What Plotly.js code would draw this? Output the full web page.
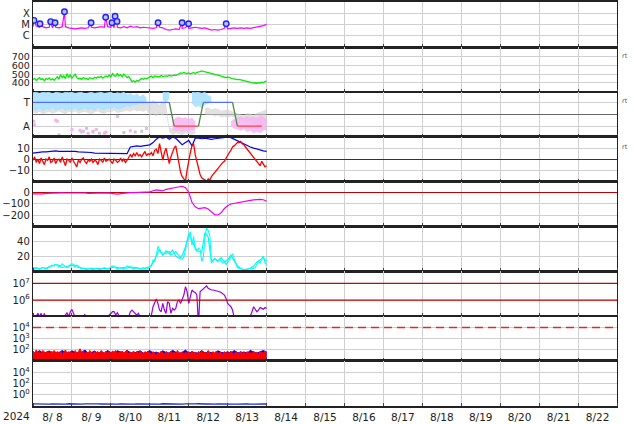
<!DOCTYPE html>
<html><head><meta charset="utf-8">
<script src="https://cdn.plot.ly/plotly-3.0.1.min.js"></script>
<style>html,body{margin:0;padding:0;background:#fff}#chart{width:634px;height:424px}</style>
</head><body><div id="chart"></div>
<script>
// ---------- time base ----------
const T0 = Date.UTC(2024, 7, 8);
const HOUR = 3600000;
const tH = h => T0 + h * HOUR;
const xs = (arr, stepH) => arr.map((_, i) => tH(i * stepH));
const pow10 = arr => arr.map(v => v == null ? null : Math.pow(10, v));

// ---------- axis labels ----------
const dayLabels = ['8/ 8','8/ 9','8/10','8/11','8/12','8/13','8/14','8/15','8/16','8/17','8/18','8/19','8/20','8/21','8/22'];
const yearLabel = '2024';
const xrayTickText = ['X', 'M', 'C'];
const xrayTickLog = [-4, -5, -6];
const sectorTickText = ['T', 'A'];

// ---------- panel 1: X-ray flux (log10 W/m2), 2-hourly ----------
const xrayLogBase = [
 -5.2,-5.15,-5.25,-5.2,-5.3,-5.25, -5.3,-5.25,-5.3,-5.2,-5.2,-5.3,
 -5.35,-5.4,-5.35,-5.3,-5.35,-5.3, -5.25,-5.3,-5.25,-5.2,-5.25,-5.2,
 -5.25,-5.3,-5.25,-5.3,-5.2,-5.3, -5.15,-5.25,-5.2,-5.3,-5.25,-5.3,
 -5.3,-5.35,-5.3,-5.25,-5.3,-5.45, -5.5,-5.45,-5.4,-5.45,-5.35,-5.3,
 -5.35,-5.3,-5.25,-5.3,-5.35,-5.3, -5.4,-5.5,-5.45,-5.5,-5.45,-5.35,
 -5.4,-5.35,-5.3,-5.35,-5.3,-5.35, -5.3,-5.35,-5.3,-5.25,-5.2,-5.1,
 -5.0];
const flareHour = [0.6, 4.3, 10.9, 13.6, 19.4, 35.8, 44.8, 48.7, 50.6, 51.8, 77.1, 91.9, 95.9, 119.1];
const flareLog  = [-4.64,-4.94,-4.75,-4.85,-3.87,-4.85,-4.36,-4.85,-4.27,-4.73,-4.85,-4.85,-4.94,-4.94];

// ---------- panel 2: solar wind speed (km/s), hourly ----------
const windSpeed = [
 440,452,430,445,460,438,448,425,450,442,458,435,447,430,455,
 470,445,495,460,480,450,505,465,490,455,475,500,460,445,
 455,440,462,448,452,438,460,450,445,465,455,470,
 462,475,455,468,480,470,
 490,470,505,485,475,510,480,495,470,500,485,460,475,
 440,415,425,410,430,420,
 438,450,442,455,448,460,
 465,478,460,482,470,475,468,485,472,478,
 480,475,488,478,482,490,485,495,
 505,515,510,520,512,
 508,515,505,512,518,510,520,525,
 530,538,532,528,
 520,515,512,505,508,500,495,490,
 485,478,470,465,460,468,458,455,
 450,445,442,438,440,435,430,425,420,
 415,410,405,400,398,402,
 395,405,400,410,405,415,420];

// ---------- panel 3: IMF sector (T = +1, A = -1), 2-hourly bands ----------
const towardUpper = [
 1.85,1.9,1.8,1.9,1.85,1.9,1.75,1.9,1.85,1.8,1.9,1.85, 1.9,1.8,1.85,1.9,1.75,1.85,1.9,1.8,1.85,1.9,1.8,1.85,
 1.9,1.75,1.85,1.8,1.9,1.7,1.8,1.6,1.75,1.5,1.7,1.4,
 null,null,null,null, 1.9,1.85,1.9, null,null,null,null,null,null,
 1.9,1.85,1.9,1.8,1.9,1.6,1.5,
 null,null,null,null,null,null,null,null,null,null,null,null,null,null,null,null,null];
const towardLower = [
 0.4,0.3,0.5,0.25,0.45,0.35,0.6,0.3,0.4,0.5,0.3,0.45, 0.35,0.55,0.3,0.4,0.5,0.35,0.45,0.3,0.55,0.4,0.35,0.5,
 0.45,0.6,0.4,0.5,0.55,0.7,0.6,0.8,0.75,0.9,0.85,1.0,
 null,null,null,null, 1.2,1.0,1.3, null,null,null,null,null,null,
 0.9,0.6,0.7,0.5,0.8,0.9,1.0,
 null,null,null,null,null,null,null,null,null,null,null,null,null,null,null,null,null];
const awayUpper = [
 null,null,null,null,null,null,null,null,null,null,null,null,null,null,null,null,null,null,null,null,null,null,
 null,null,null,null,null,null,null,null,null,null,null,null,null,null,null,null,null,null,null,null,null,
 -0.5,-0.3,-0.2,-0.35,-0.25,-0.4,-0.3,-0.6,
 null,null,null,null,null,null,null,null,null,null,
 -0.6,-0.4,-0.3,-0.2,-0.3,-0.15,-0.25,-0.2,-0.3,-0.1,-0.2,-0.4];
const awayLower = [
 null,null,null,null,null,null,null,null,null,null,null,null,null,null,null,null,null,null,null,null,null,null,
 null,null,null,null,null,null,null,null,null,null,null,null,null,null,null,null,null,null,null,null,null,
 -1.3,-1.45,-1.4,-1.5,-1.4,-1.45,-1.35,-1.3,
 null,null,null,null,null,null,null,null,null,null,
 -1.0,-1.2,-1.3,-1.4,-1.3,-1.5,-1.4,-1.6,-1.5,-1.6,-1.4,-1.2];
const grayUpper = [
 0.6,0.55,0.65,0.5,0.6,0.55,0.7,0.5,0.6,0.65,0.5,0.6, 0.55,0.7,0.5,0.6,0.65,0.55,0.6,0.5,0.7,0.6,0.55,0.65,
 0.6,0.7,0.6,0.65,0.7,0.8,0.75,0.9,0.85,0.95,0.9,1.0,
 0.9,1.2,1.0,0.8,1.1,0.9,
 -1.1,-1.2,-1.15,-1.2,-1.1,-1.25,-1.2,-1.15,-1.2,
 null,null,
 0.5,0.6,0.4,0.5,0.45,0.3,0.35,0.4,0.3,0.2,0.1,
 0.0,-0.1,0.1,0.0,-0.05,0.1,0.2,0.3,0.4];
const grayLower = [
 0.15,0.05,0.2,0.0,0.1,0.2,0.05,0.15,0.25,0.1,0.0,0.2, 0.1,0.25,0.05,0.15,0.2,0.1,0.0,0.15,0.25,0.1,0.05,0.2,
 0.15,0.3,0.1,0.2,0.25,0.3,0.2,0.35,0.25,0.3,0.2,0.35,
 -0.1,0.0,-0.2,0.0,-0.1,0.1,
 -1.5,-1.75,-1.6,-1.7,-1.75,-1.6,-1.7,-1.75,-1.6,
 null,null,
 0.0,-0.1,-0.05,-0.2,-0.1,-0.25,-0.2,-0.3,-0.2,-0.35,-0.4,
 -0.5,-0.6,-0.7,-0.6,-0.8,-0.9,-1.2,-1.3,-1.4];
const pinkDotHour = [0.5, 1, 14, 15, 24, 29, 30, 33, 34, 37, 39, 44, 45, 52, 60, 70];
const pinkDotVal  = [-0.6,-0.9,-0.5,-0.6,-1.3,-1.35,-1.5,-1.2,-1.6,-1.45,-1.3,-1.6,-1.5,-0.2,-1.4,-1.2];
const grayDotHour = [16, 31, 37, 41, 56, 63, 67];
const grayDotVal  = [-1.75,-1.45,-1.5,-1.6,-1.55,-1.5,-1.45];
const sectorStartH = [0, 87, 105, 126];
const sectorEndH   = [84, 102, 123, 141];
const sectorSign   = [1, -1, 1, -1];

// ---------- panel 4: IMF Bt (2-hourly) and Bz (hourly), nT ----------
const imfBt = [
 5.5,6,6,6.5,6.5,7,7,7.5,7,7,7.5,7,
 7,7,6.5,6.5,6,6,6,5.5,5.5,5.5,5.5,5.5,
 5.5,5.5,5.5,5.5,5.5,5,11,11.5,12,11.5,12,12.5,
 13,15,18,20,19,20,18,20,19,16,13,15,
 17,12,19,19,18.5,19,18.5,18,18.5,19,19,19.5,
 20,19.5,18,16.5,15,13.5,12,11,10,9,8,7.5,
 7];
const imfBz = [
 -1,2,-3,0,-4,1,-2,-5,0,-1,2,-3,
 -2,1,-4,-1,0,-3,2,-2,-6,0,-1,-3,
 1,-2,-4,-7,-1,-3,0,1,-2,-4,-1,-2,
 0,-3,-1,-2,-5,0,-1,-3,1,-2,-1,0,
 -2,-4,0,-1,-3,-2,1,-2,0,-3,-1,2,
 4,2,5,3,6,3,4,2,5,7,3,5,4,6,
 3,8,9,5,14,7,-1,6,10,3,-4,2,6,10,12,3,-7,-12,-16,-18,-20,-10,
 0,6,12,14,4,-2,-10,-14,-17,-18,-19,-20,
 -18,-19,-16,-14,-12,-11,-9,-7,-5,-3,-2,1,
 3,6,8,11,12,14,15,15,16,14,13,11,
 9,8,6,4,2,-1,-3,-5,-6,-2,-4,-7,-6];

// ---------- panel 5: Dst (nT), 2-hourly ----------
const dst = [
 -10,-12,-8,-10,-6,-4,-2,0,2,0,-2,-1,
 0,-2,-4,-3,-2,-5,-4,-2,-1,-3,-4,-2,
 -5,-10,-12,-8,-3,0,2,1,3,4,2,5,
 8,18,25,22,18,30,35,38,44,50,58,45,
 5,-85,-125,-142,-138,-133,-145,-170,-195,-198,-178,-140,
 -115,-100,-94,-86,-80,-75,-70,-67,-64,-60,-58,-62,
 -75];

// ---------- panel 6: activity index (two stations) ----------
const indexA = [
 5,4,6,5,4,5,6,5,4,5,6,7,
 9,8,10,9,7,8,11,9,7,6,7,9,
 11,10,8,9,7,5,4,5,4,3,4,5,
 4,3,4,5,4,3,4,5,6,5,4,5,
 6,8,7,5,4,5,6,5,4,6,8,7,
 6,5,4,5,6,5,4,5,6,5,4,5,6,8,
 16,14,22,34,28,25,25,24,24,27,27,22,24,26,27,24,22,18,17,20,30,38,
 48,53,35,47,30,28,31,30,14,20,45,58,
 55,48,12,15,17,16,15,17,14,12,15,10,
 12,17,20,24,18,10,6,5,4,3,3,2.5,
 3,4,5,4,5,6,10,14,12,18,21,12,10];
const indexB = [
 6,5,4,6,5,7,8,10,9,6,7,8,
 9,7,6,5,4,4,5,4,5,4,5,4,
 5,7,6,5,6,5,7,6,5,5,4,6,
 7,12,20,30,22,28,24,29,21,18,22,33,
 50,40,32,27,26,52,46,13,18,14,19,13,
 16,22,14,8,5,3,4,5,8,13,16,19,
 14];

// ---------- panel 7: electron flux (log10), hourly ----------
const electronLog = [
 4.6,4.8,4.9,5.2,5.0,5.2,4.9,5.2,4.8,4.6,4.5,4.5,
 4.5,4.5,4.6,4.7,4.8,4.7,4.8,4.9,5.1,5.24,5.0,5.3,
 5.44,5.2,4.9,4.7,4.8,4.9,4.8,5.0,5.14,4.9,4.7,4.6,
 4.5,4.5,4.6,4.7,4.6,4.7,4.8,4.7,4.8,4.9,5.0,5.1,
 5.2,5.3,5.3,5.1,5.24,5.0,4.8,4.7,4.6,4.8,4.9,5.0,
 5.3,5.4,5.3,5.2,5.1,5.2,4.9,4.8,4.7,4.9,5.0,4.9,5.0,5.1,
 5.6,5.8,6.06,5.8,5.4,5.3,5.8,5.4,5.2,5.9,5.8,5.2,5.5,5.4,5.5,5.9,6.0,5.8,6.1,6.3,6.8,6.5,
 5.8,6.2,6.6,6.5,6.45,6.3,4.5,6.5,6.6,6.7,6.75,6.85,
 6.7,6.65,6.6,6.6,6.58,6.55,6.55,6.5,6.45,6.4,6.3,6.1,
 5.8,5.7,5.6,5.4,4.6,4.5,4.5,4.5,4.5,4.5,4.5,4.5,
 4.6,4.8,5.0,5.3,5.6,5.4,5.3,5.4,5.55,5.5,5.45,5.55,5.5];
const electronRefLog = [7, 6];

// ---------- panel 8: proton flux (log10) ----------
const protonRedLog = [
 1.9,1.7,2.0,1.75,1.85,1.6,1.95,1.8,1.7,1.9,1.65,1.85,1.8,1.95,1.7,1.85,1.75,1.9,1.65,1.8,2.0,1.7,1.85,1.75,
 1.8,1.65,1.95,1.7,1.85,2.1,1.75,1.9,1.6,1.85,1.7,1.95,1.8,1.65,1.9,1.75,1.85,1.7,1.95,1.8,1.65,1.9,1.75,1.85,
 1.7,1.9,1.8,1.95,1.65,1.85,1.75,1.9,1.7,1.85,1.95,1.6,1.8,1.75,1.9,1.65,1.85,1.7,1.9,1.8,1.65,1.85,1.75,1.9,
 1.75,1.6,1.85,1.7,1.55,1.8,1.65,1.9,1.7,1.6,1.85,1.75,1.65,1.9,1.7,1.8,1.6,1.95,1.75,1.7,1.85,1.65,1.8,1.7,
 1.85,1.65,1.9,1.7,1.8,1.6,1.85,1.75,1.9,1.65,1.8,1.7,1.95,1.75,1.6,1.85,1.7,1.9,1.65,1.8,1.75,1.6,1.85,1.7,
 1.8,1.65,1.9,1.7,1.6,1.85,1.75,1.65,1.9,1.7,1.8,1.6,1.85,1.7,1.75,1.65,1.9,1.7,1.8,1.6,1.85,1.75,1.7,1.9,1.8];
const protonBlueLog = [
 1.75,1.7,1.95,1.72,1.78,1.9,1.7,1.8,1.72,1.95,1.75,1.7,
 1.92,1.76,1.7,1.8,1.98,1.72,1.76,1.9,1.7,1.8,1.72,1.94,
 1.76,1.7,1.92,1.8,1.72,1.96,1.76,1.7,1.8,1.92,1.72,1.78,
 1.94,1.72,1.8,1.7,1.92,1.76,1.72,1.96,1.8,1.7,1.76,1.98,
 1.72,1.82,1.76,1.7,1.94,1.72,1.8,1.76,1.7,1.92,1.78,1.72,
 1.84,1.7,1.94,1.76,1.72,1.82,1.7,1.96,1.78,1.72,1.84,1.94,
 1.8];
const protonRefLog = [4];

// ---------- panel 9: high-energy flux (log10), 2-hourly ----------
const highEnergyLog = [
 -1.62,-1.65,-1.6,-1.66,-1.63,-1.68,-1.61,-1.64,-1.67,-1.62,-1.65,-1.6,
 -1.64,-1.66,-1.62,-1.68,-1.63,-1.6,-1.65,-1.67,-1.62,-1.64,-1.66,-1.61,
 -1.65,-1.63,-1.68,-1.62,-1.66,-1.6,-1.64,-1.67,-1.63,-1.65,-1.61,-1.66,
 -1.64,-1.62,-1.67,-1.65,-1.6,-1.63,-1.66,-1.68,-1.62,-1.64,-1.66,-1.61,
 -1.65,-1.67,-1.63,-1.6,-1.66,-1.64,-1.62,-1.68,-1.65,-1.63,-1.61,-1.66,
 -1.64,-1.6,-1.65,-1.67,-1.62,-1.66,-1.63,-1.68,-1.64,-1.61,-1.65,-1.62,
 -1.64];

// ---------- traces ----------
const traces = [];
// panel 1
const xrPts = xrayLogBase.map((v, i) => [i * 2, v]).concat(flareHour.map((h, i) => [h, flareLog[i]])).sort((a, b) => a[0] - b[0]);
traces.push({x: xrPts.map(p => tH(p[0])), y: xrPts.map(p => Math.pow(10, p[1])), mode: 'lines', line: {color: '#ff00ff', width: 1.2}, xaxis: 'x', yaxis: 'y'});
traces.push({x: flareHour.map(tH), y: pow10(flareLog), mode: 'markers', marker: {symbol: 'circle', size: 5.5, color: '#c0c0ff', line: {color: '#2020ff', width: 1.4}}, xaxis: 'x', yaxis: 'y'});
// panel 2
traces.push({x: xs(windSpeed, 1), y: windSpeed, mode: 'lines', line: {color: '#00ee00', width: 1.3}, xaxis: 'x2', yaxis: 'y2'});
// panel 3
function bands(upper, lower, color) {
  const out = []; let run = [];
  const flush = () => {
    if (run.length > 1) {
      const xf = run.map(i => tH(i * 2));
      out.push({x: xf.concat(xf.slice().reverse()), y: run.map(i => upper[i]).concat(run.slice().reverse().map(i => lower[i])),
        mode: 'lines', fill: 'toself', fillcolor: color, line: {width: 0, color: color}, xaxis: 'x3', yaxis: 'y3'});
    }
    run = [];
  };
  upper.forEach((u, i) => { if (u == null || lower[i] == null) flush(); else run.push(i); });
  flush();
  return out;
}
traces.push(...bands(grayUpper, grayLower, 'rgba(205,205,205,0.6)'));
traces.push(...bands(towardUpper, towardLower, 'rgba(170,225,255,0.9)'));
traces.push(...bands(awayUpper, awayLower, 'rgba(248,180,242,0.85)'));
traces.push({x: pinkDotHour.map(tH), y: pinkDotVal, mode: 'markers', marker: {symbol: 'square', size: 3, color: '#f6b0f0'}, xaxis: 'x3', yaxis: 'y3'});
traces.push({x: grayDotHour.map(tH), y: grayDotVal, mode: 'markers', marker: {symbol: 'square', size: 3, color: '#c8c8c8'}, xaxis: 'x3', yaxis: 'y3'});
sectorStartH.forEach((s, i) => {
  traces.push({x: [tH(s), tH(sectorEndH[i])], y: [sectorSign[i], sectorSign[i]], mode: 'lines',
    line: {color: sectorSign[i] > 0 ? '#5070ff' : '#ff4040', width: 1.3}, xaxis: 'x3', yaxis: 'y3'});
  if (i < sectorStartH.length - 1) {
    traces.push({x: [tH(sectorEndH[i]), tH(sectorStartH[i + 1])], y: [sectorSign[i], sectorSign[i + 1]], mode: 'lines',
      line: {color: '#4a8a4a', width: 1.3}, xaxis: 'x3', yaxis: 'y3'});
  }
});
// panel 4
traces.push({x: xs(imfBt, 2), y: imfBt, mode: 'lines', line: {color: '#0000ff', width: 1.2}, xaxis: 'x4', yaxis: 'y4'});
traces.push({x: xs(imfBz, 1), y: imfBz, mode: 'lines', line: {color: '#ff0000', width: 1.3}, xaxis: 'x4', yaxis: 'y4'});
// panel 5
traces.push({x: xs(dst, 2), y: dst, mode: 'lines', line: {color: '#ee00ee', width: 1.2}, xaxis: 'x5', yaxis: 'y5'});
// panel 6
traces.push({x: xs(indexB, 2), y: indexB, mode: 'lines', line: {color: '#00f0f0', width: 1.1}, xaxis: 'x6', yaxis: 'y6'});
traces.push({x: xs(indexA, 1), y: indexA, mode: 'lines', line: {color: '#00ffff', width: 1.1}, xaxis: 'x6', yaxis: 'y6'});
// panel 7
traces.push({x: xs(electronLog, 1), y: pow10(electronLog), mode: 'lines', line: {color: '#9a00d8', width: 1.2}, xaxis: 'x7', yaxis: 'y7'});
// panel 8
traces.push({x: xs(protonBlueLog, 2), y: pow10(protonBlueLog), mode: 'lines', fill: 'tozeroy', fillcolor: '#0000ff', line: {color: '#0000ff', width: 1}, xaxis: 'x8', yaxis: 'y8'});
traces.push({x: xs(protonRedLog, 1), y: pow10(protonRedLog), mode: 'lines', fill: 'tozeroy', fillcolor: '#ff0000', line: {color: '#ff0000', width: 1}, xaxis: 'x8', yaxis: 'y8'});
// panel 9
traces.push({x: xs(highEnergyLog, 2), y: pow10(highEnergyLog), mode: 'lines', line: {color: '#2030e0', width: 1.3}, xaxis: 'x9', yaxis: 'y9'});

// ---------- layout ----------
const FONT = 'DejaVu Sans';
const GRID = '#cfcfcf';
const xRange = [tH(0), tH(360)];
const labelTimes = dayLabels.map((_, i) => tH(i * 24 + 12));
const midnights = Array.from({length: 16}, (_, i) => tH(i * 24));
const layout = {
  width: 634, height: 424,
  margin: {l: 33, r: 17, t: 2, b: 18},
  paper_bgcolor: '#fff', plot_bgcolor: '#fff',
  showlegend: false,
  font: {family: FONT, size: 10, color: '#222'},
  shapes: [], annotations: []
};
const yCfg = [
  {type: 'log', range: [-7, -3], tickvals: pow10(xrayTickLog), ticktext: xrayTickText},
  {range: [300, 810], tickvals: [400, 500, 600, 700], tickfont: {family: FONT, size: 9.5, color: '#222'}},
  {range: [-1.9, 1.9], tickvals: [1, -1], ticktext: sectorTickText, zeroline: true, zerolinecolor: '#666', zerolinewidth: 1},
  {range: [-20.4, 20.4], tickvals: [-10, 0, 10], zeroline: true, zerolinecolor: '#a80000', zerolinewidth: 1.2},
  {range: [-300, 100], tickvals: [-200, -100, 0], zeroline: true, zerolinecolor: '#c00000', zerolinewidth: 1.2},
  {range: [1, 60], tickvals: [20, 40]},
  {type: 'log', range: [5.03, 7.72], tickvals: [1e6, 1e7], ticktext: ['10<sup>6</sup>', '10<sup>7</sup>']},
  {type: 'log', range: [1, 5], tickvals: [1e2, 1e3, 1e4], ticktext: ['10<sup>2</sup>', '10<sup>3</sup>', '10<sup>4</sup>']},
  {type: 'log', range: [-2, 6], tickvals: [1, 1e2, 1e4], ticktext: ['10<sup>0</sup>', '10<sup>2</sup>', '10<sup>4</sup>']}
];
for (let i = 1; i <= 9; i++) {
  const sx = i === 1 ? '' : String(i);
  layout['xaxis' + sx] = {
    type: 'date', range: xRange, anchor: 'y' + sx,
    tickmode: 'array', tickvals: labelTimes, ticktext: dayLabels,
    showticklabels: i === 9, ticks: '', showgrid: false, zeroline: false,
    tickfont: {family: FONT, size: 10.5, color: '#222'},
    minor: {tickmode: 'array', tickvals: midnights, showgrid: true, gridcolor: GRID, gridwidth: 1, ticks: 'inside', ticklen: 3, tickcolor: '#444'},
    showline: true, linecolor: '#222', linewidth: (i === 1 || i === 9) ? 2 : 1.25, mirror: true, fixedrange: true
  };
  const c = yCfg[i - 1];
  layout['yaxis' + sx] = Object.assign({
    domain: [1 - i / 9, 1 - (i - 1) / 9], anchor: 'x' + sx,
    tickmode: 'array', showgrid: true, gridcolor: GRID, gridwidth: 1, zeroline: false,
    ticks: '', showline: true, linecolor: '#222', linewidth: 1.2, mirror: true,
    tickfont: {family: FONT, size: 10, color: '#222'}, fixedrange: true
  }, c);
}
// threshold lines
electronRefLog.forEach(v => layout.shapes.push({type: 'line', xref: 'paper', yref: 'y7', x0: 0, x1: 1, y0: Math.pow(10, v), y1: Math.pow(10, v), line: {color: '#cc0000', width: 1.2}}));
protonRefLog.forEach(v => layout.shapes.push({type: 'line', xref: 'paper', yref: 'y8', x0: 0, x1: 1, y0: Math.pow(10, v), y1: Math.pow(10, v), line: {color: '#e02828', width: 1.5, dash: '8px,5px'}}));
// year label
layout.annotations.push({xref: 'paper', yref: 'paper', x: 0, y: 0, xanchor: 'right', yanchor: 'top', xshift: -1, yshift: -2, text: yearLabel, showarrow: false, font: {family: FONT, size: 10.5, color: '#222'}});
// "rt" labels
const rtAxes = ['y2', 'y3', 'y4', 'y7', 'y8'];
const rtVals = [700, 1, 10, 1e7, 1e4];
rtAxes.forEach((ax, i) => layout.annotations.push({xref: 'paper', yref: ax, x: 1, y: rtVals[i], xanchor: 'left', xshift: 3, yshift: 1, text: 'rt', showarrow: false, font: {family: FONT, size: 6.5, color: '#555'}}));

Plotly.newPlot('chart', traces, layout, {staticPlot: true, displayModeBar: false});
</script></body></html>
